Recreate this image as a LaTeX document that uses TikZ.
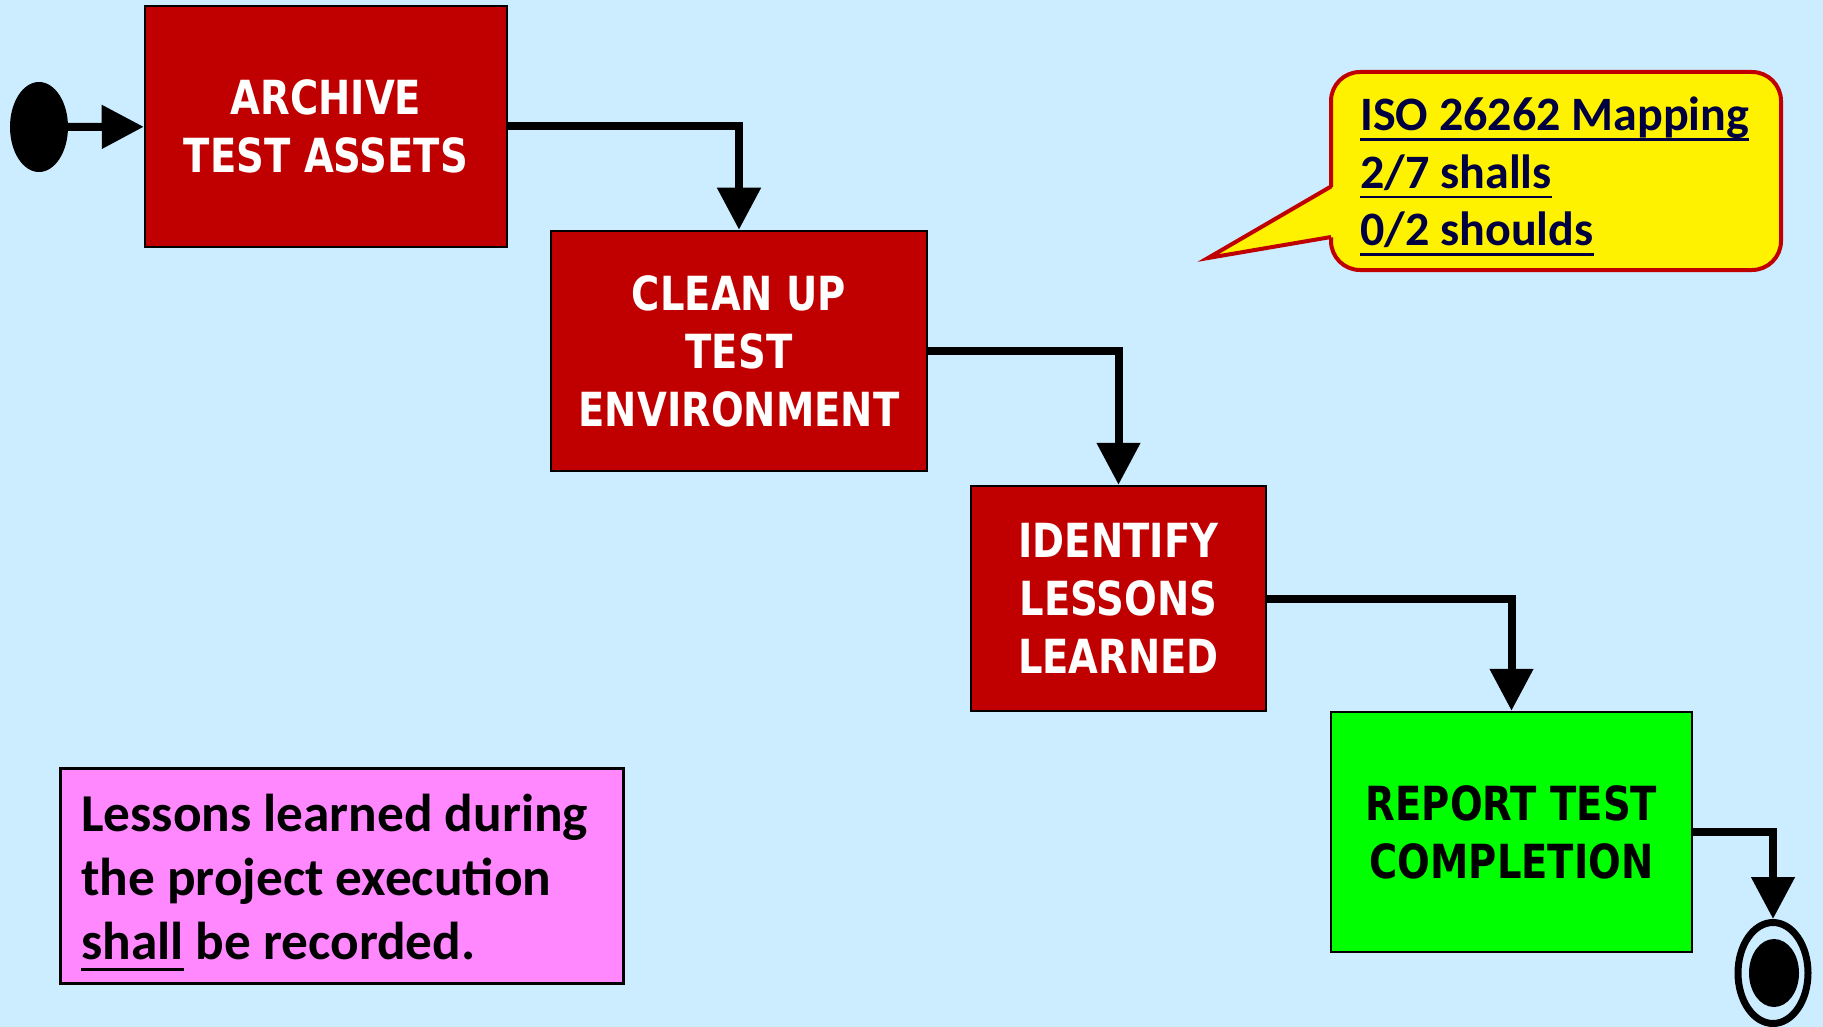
\documentclass[tikz,border=0pt]{standalone}
\usepackage{fontspec}
\setmainfont{Carlito}
\newfontfamily\boxfont[FakeStretch=0.82]{DejaVu Sans}
\usetikzlibrary{arrows.meta,shapes.geometric}

\definecolor{bgblue}{RGB}{204,236,255}
\definecolor{actred}{RGB}{192,0,0}
\definecolor{actgreen}{RGB}{0,255,0}
\definecolor{notepink}{RGB}{255,136,255}
\definecolor{calloutred}{RGB}{192,0,0}
\definecolor{navy}{RGB}{0,0,64}

% underline at a fixed depth below the baseline
\newcommand{\undl}[1]{\leavevmode\setbox0\hbox{#1}\rlap{\vrule width\wd0 height -0.15em depth 0.21em}\box0\relax}

\begin{document}
\begin{tikzpicture}[x=1pt,y=-1pt,
  activity/.style={rectangle, draw=black, line width=2.5pt, fill=actred, text=white,
    font=\boxfont\bfseries\fontsize{47}{58}\selectfont, align=center, inner sep=0pt},
  flow/.style={line width=8pt, -{Triangle[length=42pt,width=42pt]}},
  startdot/.style={ellipse, fill=black, inner sep=0pt},
  notebox/.style={rectangle, draw=black, line width=3pt, fill=notepink, inner sep=0pt},
  notetext/.style={font=\bfseries\fontsize{53.3}{64}\selectfont, align=left, inner sep=0pt, anchor=west},
  calloutbox/.style={rectangle, rounded corners=29pt, draw=calloutred, line width=4pt,
    fill=yellow, inner sep=0pt},
  callouttext/.style={text=navy, font=\bfseries\fontsize{48}{57.5}\selectfont, align=left,
    inner sep=0pt, anchor=west}
]
\useasboundingbox (0,0) rectangle (1823,1027);
\fill[bgblue] (0,0) rectangle (1823,1027);

% activities
\node[activity, minimum width=362, minimum height=241] (archive) at (326,126.5)
  {ARCHIVE\\TEST ASSETS};
\node[activity, minimum width=376, minimum height=240] (cleanup) at (739,351)
  {CLEAN UP\\TEST\\ENVIRONMENT};
\node[activity, minimum width=295, minimum height=225] (lessons) at (1118.5,598.5)
  {IDENTIFY\\LESSONS\\LEARNED};
\node[activity, fill=actgreen, text=black, minimum width=361, minimum height=240] (report) at (1511.5,832)
  {REPORT TEST\\COMPLETION};

% initial and final states
\node[startdot, minimum width=58, minimum height=90] (start) at (39,127) {};
\node[ellipse, draw=black, line width=7pt, inner sep=0pt, minimum width=70, minimum height=101] (finalring) at (1773,973) {};
\node[startdot, minimum width=50, minimum height=68] (finaldot) at (1774,973) {};

% control flow
\draw[flow] (start) -- (archive);
\draw[flow] (archive.east) -| (cleanup.north);
\draw[flow] (cleanup.east) -| (lessons.north);
\draw[flow] (lessons.east) -| (report.north);
\draw[flow] (report.east) -| (finalring.north);

% requirement note
\node[notebox, minimum width=563, minimum height=215] (note) at (341.5,876) {};
\node[notetext] (notetxt) at (81,882.5)
  {Lessons learned during\\the project execution\\\undl{shall} be recorded.};

% standard mapping callout
\node[calloutbox, minimum width=450, minimum height=198] (mapping) at (1556,171) {};
\coordinate (tip) at (1208,258);
\coordinate (baseup) at (1331,186.5);
\coordinate (baselow) at (1331,237);
\fill[yellow] ([xshift=3pt]baseup) -- (tip) -- ([xshift=3pt]baselow) -- cycle;
\draw[calloutred, line width=4pt, line join=miter] (baseup) -- (tip) -- (baselow);
\node[callouttext] (mappingtxt) at (1360,176.5)
  {\undl{ISO 26262 Mapping}\\\undl{2/7 shalls}\\\undl{0/2 shoulds}};
\end{tikzpicture}
\end{document}
